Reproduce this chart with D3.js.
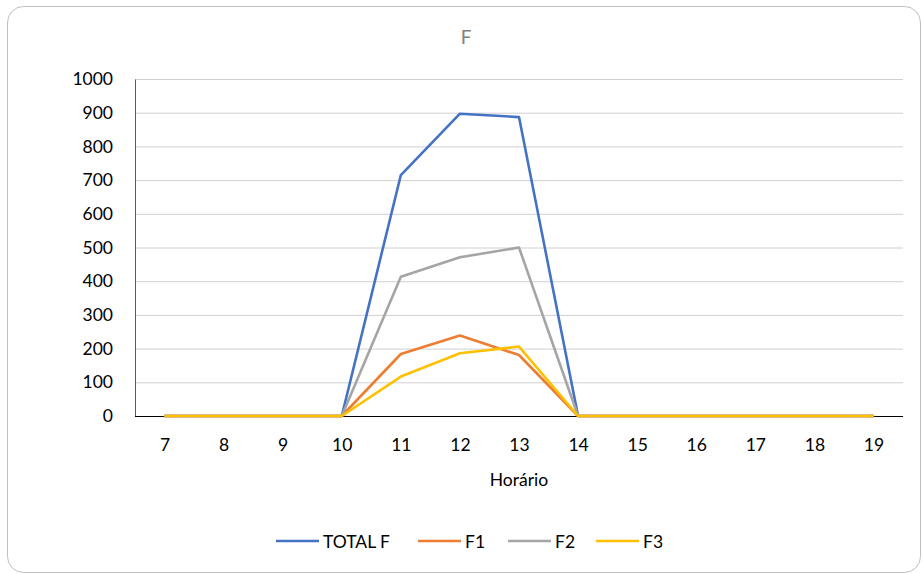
<!DOCTYPE html>
<html><head><meta charset="utf-8">
<script src="https://cdn.jsdelivr.net/npm/d3@7"></script>
<style>body{margin:0;background:#fff;} text{font-family:Lato,"Open Sans",sans-serif;}</style>
</head><body>
<svg id="c" width="922" height="573"></svg>
<script>
const hours = ["7","8","9","10","11","12","13","14","15","16","17","18","19"];
const totalF = [0,0,0,0,715,897,887,0,0,0,0,0,0];
const f1 = [0,0,0,0,184,239,181,0,0,0,0,0,0];
const f2 = [0,0,0,0,413,471,500,0,0,0,0,0,0];
const f3 = [0,0,0,0,117,186,206,0,0,0,0,0,0];
const yTicks = [0,100,200,300,400,500,600,700,800,900,1000];
const seriesNames = ["TOTAL F","F1","F2","F3"];
const seriesColors = ["#4472C4","#ED7D31","#A5A5A5","#FFC000"];
const series = [totalF,f1,f2,f3];

const svg = d3.select("#c");
svg.append("rect").attr("x",7.5).attr("y",6.5).attr("width",913).attr("height",566).attr("rx",16)
  .attr("fill","#fff").attr("stroke","#bfbfbf").attr("stroke-width",1);

const L=135, R=903, T=79, B=416;
const FS=17.5;
const x = d3.scalePoint().domain(hours).range([L,R]).padding(0.5);
const y = d3.scaleLinear().domain([0,1000]).range([B,T]);

// grid
svg.append("g").selectAll("line").data(yTicks.filter(d=>d>0)).join("line")
  .attr("x1",L).attr("x2",R).attr("y1",d=>y(d)+0.5).attr("y2",d=>y(d)+0.5)
  .attr("stroke","#d0d0d0").attr("stroke-width",1);

// y axis
const ya = svg.append("g").attr("transform",`translate(${L},0)`)
  .call(d3.axisLeft(y).tickValues(yTicks).tickFormat(d3.format("d")).tickSize(0).tickPadding(22));
ya.select(".domain").attr("stroke","#595959");
ya.selectAll("text").attr("font-size",FS).attr("fill","#000");

// x axis
const xa = svg.append("g").attr("transform",`translate(0,${B})`)
  .call(d3.axisBottom(x).tickSize(0).tickPadding(23));
xa.select(".domain").attr("d",`M${L},0.5H${R}`).attr("stroke","#000");
xa.selectAll("text").attr("font-size",FS).attr("fill","#000");

// lines (later series drawn on top)
const line = d3.line().x((d,i)=>x(hours[i])).y(d=>y(d));
series.forEach((s,i)=>{
  svg.append("path").datum(s).attr("d",line).attr("fill","none")
    .attr("stroke",seriesColors[i]).attr("stroke-width",2.6).attr("stroke-linejoin","round");
});

// title
svg.append("text").attr("x",466).attr("y",44).attr("text-anchor","middle")
  .attr("font-size",19).attr("fill","#7f7f7f").text("F");
// axis title
svg.append("text").attr("x",519).attr("y",486).attr("text-anchor","middle")
  .attr("font-size",FS).attr("fill","#000").text("Horário");

// legend
const legX = [276,418,508,596];
seriesNames.forEach((n,i)=>{
  const g = svg.append("g");
  g.append("line").attr("x1",legX[i]).attr("x2",legX[i]+43).attr("y1",541).attr("y2",541)
    .attr("stroke",seriesColors[i]).attr("stroke-width",2.6);
  g.append("text").attr("x",legX[i]+47).attr("y",547.5).attr("font-size",FS).attr("fill","#000").text(n);
});
</script>
</body></html>
